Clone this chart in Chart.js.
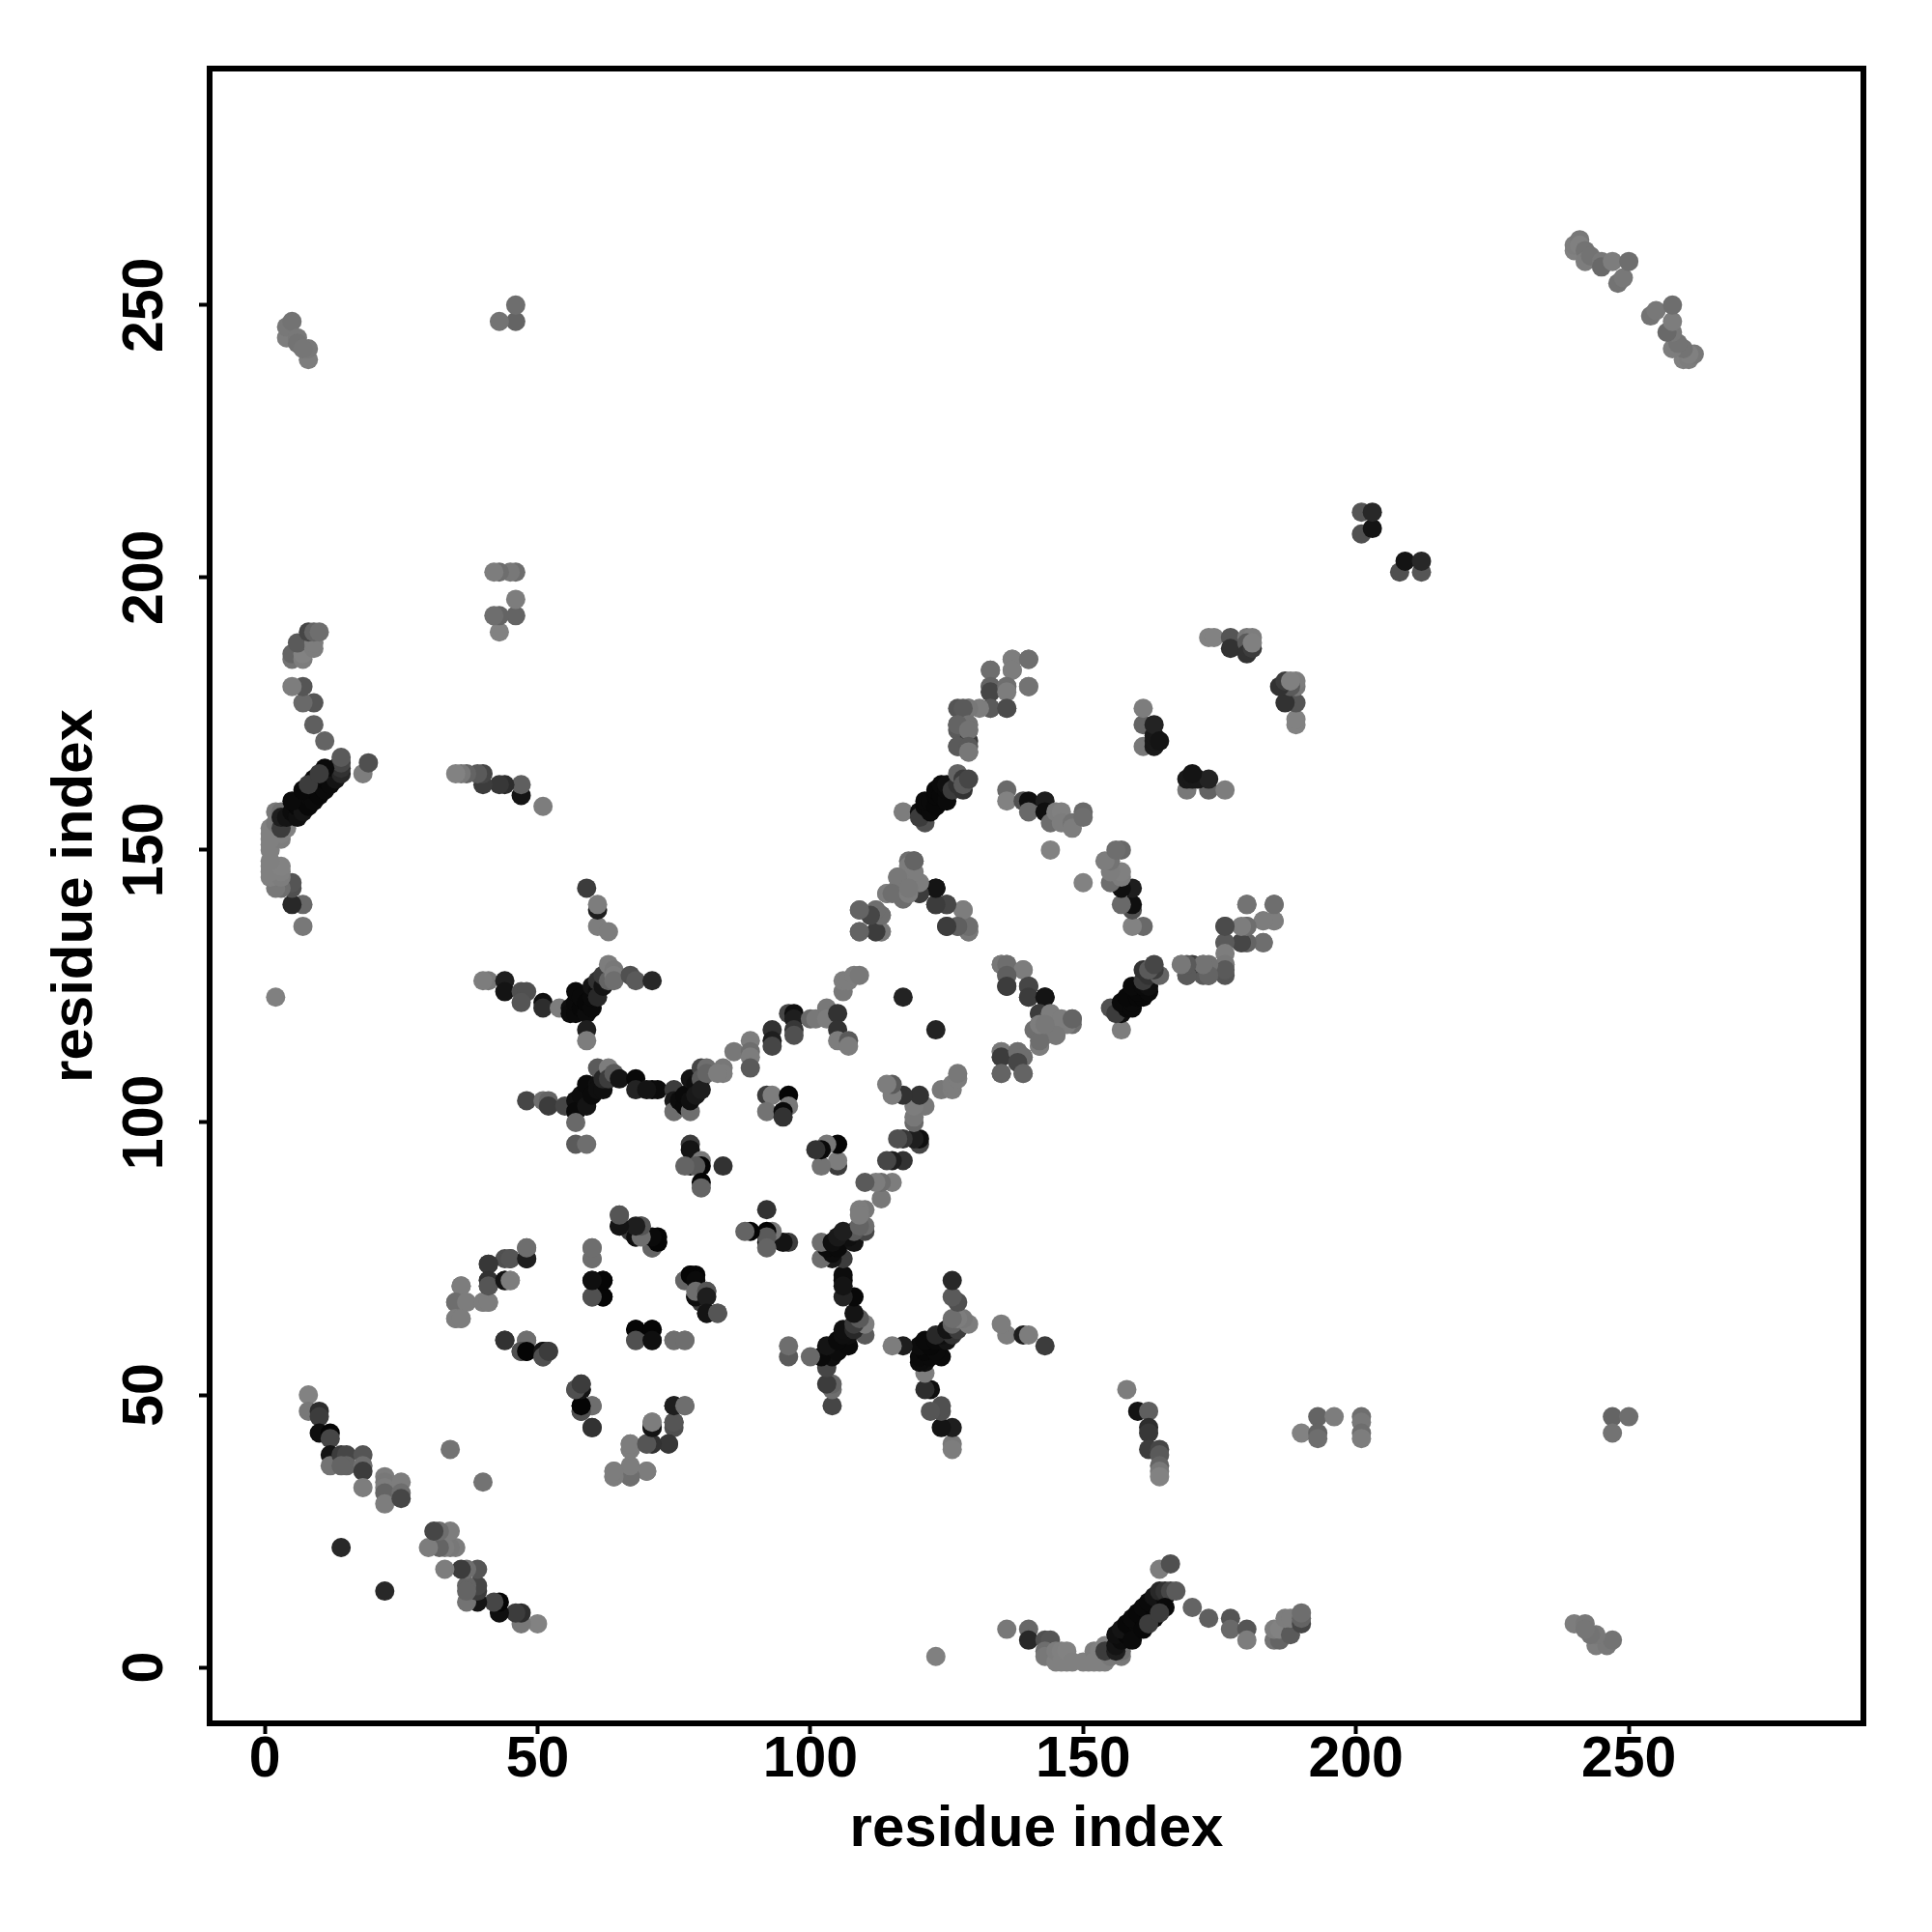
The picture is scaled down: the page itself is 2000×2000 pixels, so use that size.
<!DOCTYPE html>
<html>
<head>
<meta charset="utf-8">
<title>contact map</title>
<script src="https://cdn.jsdelivr.net/npm/chart.js@4"></script>
<style>
  html, body { margin: 0; padding: 0; background: #fff; }
  canvas { display: block; }
</style>
</head>
<body>
<canvas id="mapa" width="2000" height="2000"></canvas>
<script>
// residue pairs, the map is symmetric so each pair is listed once
const residueA = [
  2,7,7,5,5,5,3,2,1,3, 1,3,1,3,1,1,1,3,1,1, 3,1,2,4,2,3,3,3,4,5, 6,6,7,7,8,8,9,9,10,10,
  11,11,12,12,13,13,14,14,14,14, 18,19,11,9,9,7,7,5,5,5, 7,7,6,9,9,8,9,10,51,47, 47,44,43,40,40,39,37,36,35,46,
  46,43,43,42,46,45,43,42,46,43, 46,8,8,4,4,5,6,6,7,240, 240,241,241,242,242,243,245,245,247,248, 249,250,201,201,203,203,173,174,177,177,
  180,181,180,180,181,181,161,161,161,163, 163,163,163,164,117,120,121,120,121,122, 121,122,123,123,123,124,124,125,125,125, 126,127,127,128,128,128,129,136,136,139,
  140,140,143,143,144,145,146,146,148,148, 150,150,144,118,119,118,116,116,114,118, 117,119,120,120,123,123,125,125,128,129, 127,129,109,112,113,109,112,113,135,136,
  139,136,136,140,140,143,142,144,146,148, 141,144,145,142,142,142,143,135,135,135, 138,139,138,139,168,169,169,172,173,176, 176,176,176,179,180,180,180,183,183,185,
  185,172,170,133,137,137,140,133,133,136, 136,140,133,131,136,129,128,129,127,129, 127,129,129,41,44,44,47,48,47,51, 51,54,56,56,57,57,57,58,58,59,
  59,59,59,60,60,60,61,61,61,62, 62,63,63,64,64,64,67,68,71,40, 61,63,61,61,59,48,51,52,52,55, 57,57,57,57,59,58,59,59,60,61,
  61,62,61,62,63,63,64,65,68,68, 71,72,70,75,75,75,76,77,77,78, 78,78,79,79,80,81,80,80,81,84, 84,83,86,89,89,89,89,93,93,93,
  96,97,97,97,97,100,101,103,103,105, 105,105,107,107,106,106,107,108,109,117, 92,93,92,96,96,95,95,78,78,78, 80,80,79,80,80,84,77,65,65,69,
  68,68,72,72,71,67,60,60,60,62, 60,62,77,78,79,79,79,81,81,81, 83,68,71,68,71,75,77,75,77,71, 75,75,71,70,71,74,67,67,64,64,
  67,67,70,58,57,58,58,58,60,60, 44,48,47,48,51,51,52,36,35,37, 40,41,35,36,41,41,41,45,44,45, 48,48,8,8,10,10,10,12,12,12,
  12,14,15,15,18,18,18,18,22,22, 22,22,22,25,25,25,14,34,14,
  5,7,9,11,8,10
];
const residueB = [
  123,136,140,140,143,144,143,143,145,145, 146,146,147,147,148,150,151,152,152,153, 153,154,155,154,157,157,154,156,156,157, 156,158,157,159,158,160,159,161,160,162,
  161,163,162,164,163,165,164,165,166,167, 164,166,170,173,177,177,180,180,185,186, 185,186,188,187,188,190,190,190,158,160, 162,162,162,162,164,164,164,164,164,193,
  196,190,193,193,201,201,201,201,247,247, 250,240,242,244,246,247,244,243,242,260, 261,262,261,260,258,259,258,257,258,254, 255,258,208,212,209,212,189,189,189,187,
  189,189,188,186,187,188,169,173,176,169, 170,171,173,170,157,157,155,156,158,157, 159,159,158,160,161,160,162,159,161,162, 161,162,164,161,163,162,163,161,159,159,
  159,157,159,157,155,157,157,155,155,154, 157,156,150,148,148,147,145,143,142,142, 144,144,144,142,143,140,140,136,139,136, 136,135,139,139,138,135,135,135,129,129,
  128,127,125,125,123,123,120,120,119,119, 117,117,116,114,115,118,118,113,112,109, 113,112,111,109,129,127,128,129,127,129, 127,133,136,133,133,136,140,133,137,137,
  140,127,129,183,185,183,185,180,179,180, 179,180,176,176,176,176,176,173,173,172, 169,169,168,126,126,124,124,124,122,122, 121,121,121,120,120,122,124,121,123,120,
  122,117,115,121,123,125,124,123,126,125, 127,126,129,128,127,126,127,126,126,126, 136,135,139,140,143,104,104,104,103,103, 104,102,100,96,96,105,103,107,105,107,
  106,106,110,108,110,108,109,108,108,106, 106,106,106,106,104,102,104,103,105,102, 104,108,107,105,110,110,108,106,109,110, 109,109,113,115,113,112,110,117,115,114,
  120,120,119,117,116,119,119,121,119,120, 117,115,115,114,124,126,126,127,127,123, 105,105,102,105,103,102,101,96,95,92, 93,92,92,89,88,92,92,83,81,81,
  80,79,79,78,77,80,77,75,71,71, 68,68,71,72,71,68,69,69,68,65, 65,62,62,60,60,60,60,48,48,45, 45,44,44,41,41,41,41,40,36,35,
  36,35,36,52,51,51,48,47,48,44, 60,60,58,58,58,57,58,70,67,67, 67,67,64,64,74,71,70,75,71,71, 75,77,50,47,47,46,43,43,42,39,
  37,39,39,37,39,37,36,33,35,34, 33,32,30,34,32,31,22,40,37,
  159,161,163,165,162,164
];
// grey level of each pair, 0 is black
const residueGrey = [
  128,120,104,40,80,85,110,120,128,125, 128,128,128,130,128,128,128,125,128,128, 128,128,120,130,120,110,60,30,20,12, 15,8,20,10,8,10,10,8,8,8,
  10,8,10,10,20,12,40,50,70,90, 125,80,100,95,85,105,85,125,115,100, 125,130,90,125,125,70,100,110,125,20, 95,45,55,60,70,90,100,120,130,100,
  125,130,100,110,110,120,110,125,100,115, 110,125,120,125,120,115,120,115,118,128, 125,120,128,115,125,115,120,105,125,115, 120,110,80,85,20,40,130,130,85,50,
  120,125,90,50,60,128,120,100,125,25, 25,25,35,20,125,15,80,60,10,10, 10,10,8,8,8,8,10,10,10,15, 60,50,100,50,60,90,70,105,130,80,
  15,105,30,15,110,125,128,125,115,125, 105,110,130,110,105,125,125,120,125,115, 125,120,125,70,10,50,50,60,115,120, 115,110,100,110,125,100,100,125,120,110,
  125,95,60,70,60,20,60,125,125,100, 110,125,120,125,110,125,120,120,60,100, 110,110,70,100,115,85,130,110,75,125, 85,90,70,60,90,110,120,105,125,125,
  105,90,60,110,125,125,110,100,70,110, 125,115,90,125,75,120,90,115,100,115, 90,90,120,120,30,20,80,80,85,15, 45,125,15,12,10,10,10,8,10,12,
  8,30,125,10,10,20,15,40,50,20, 60,100,125,120,125,110,80,90,40,125, 125,125,30,125,60,70,110,100,60,70, 15,10,105,90,110,12,20,10,10,15,
  15,15,90,40,125,60,90,20,8,35, 10,12,20,60,25,110,12,10,10,110, 15,20,15,25,70,110,90,30,100,120, 125,125,120,125,110,125,90,50,30,70,
  70,15,30,55,80,105,120,120,125,50, 50,125,90,125,120,125,125,125,120,35, 60,125,115,5,120,10,50,60,20,20, 120,5,90,5,100,50,100,75,20,90,
  50,25,5,25,95,60,110,120,12,15, 80,5,100,5,10,15,110,85,30,20, 85,5,5,80,15,110,110,20,90,125, 60,80,25,70,45,45,125,125,125,125,
  125,90,120,60,80,5,10,80,100,55, 50,110,80,5,20,80,60,125,110,125, 125,125,125,125,55,50,85,85,20,125, 30,110,130,120,45,60,15,5,70,20,
  115,60,70,100,85,110,60,125,125,120, 125,100,125,125,110,70,40,115,100,
  10,8,8,10,60,60
];
const tickValues = [0, 50, 100, 150, 200, 250];
const axisTitle = "residue index";

const puntos = [];
const colores = [];
residueA.forEach((a, n) => {
    const g = residueGrey[n];
    puntos.push({ x: a, y: residueB[n] });
    colores.push(`rgb(${g},${g},${g})`);
    puntos.push({ x: residueB[n], y: a });
    colores.push(`rgb(${g},${g},${g})`);
});

// box round the plot, chart.js only gives the left and bottom edges
const marco = {
    id: "marco",
    afterDatasetsDraw(chart) {
        const { ctx, chartArea: a } = chart;
        ctx.save();
        ctx.strokeStyle = "#000";
        ctx.lineWidth = 6;
        ctx.strokeRect(a.left, a.top, a.right - a.left, a.bottom - a.top);
        ctx.restore();
    }
};

const fuenteTicks = { family: "Liberation Sans", size: 59, weight: "bold" };
const fuenteTitulo = { family: "Liberation Sans", size: 60, weight: "bold" };
const rejilla = { drawOnChartArea: false, drawTicks: true, tickLength: 11, tickWidth: 4, tickColor: "#000" };

new Chart(document.getElementById("mapa"), {
    type: "scatter",
    data: {
        datasets: [{
            data: puntos,
            backgroundColor: colores,
            pointRadius: 10,
            pointHoverRadius: 10,
            borderWidth: 0,
            pointBorderWidth: 0,
            showLine: false
        }]
    },
    options: {
        responsive: false,
        animation: false,
        devicePixelRatio: 1,
        layout: { padding: { top: 71, right: 71, left: 0, bottom: 0 } },
        plugins: { legend: { display: false }, tooltip: { enabled: false } },
        scales: {
            x: {
                type: "linear",
                min: -10.1,
                max: 293,
                afterBuildTicks: s => { s.ticks = tickValues.map(v => ({ value: v })); },
                afterFit: s => { s.height = 216; },
                border: { display: false },
                grid: rejilla,
                ticks: { color: "#000", font: fuenteTicks, padding: -8, maxRotation: 0, minRotation: 0 },
                title: { display: true, text: axisTitle, color: "#000", font: fuenteTitulo, padding: { top: 0, bottom: 70 } }
            },
            y: {
                type: "linear",
                min: -10.27,
                max: 293.4,
                afterBuildTicks: s => { s.ticks = tickValues.map(v => ({ value: v })); },
                afterFit: s => { s.width = 217; },
                border: { display: false },
                grid: rejilla,
                ticks: { color: "#000", font: fuenteTicks, padding: 5, minRotation: 90, maxRotation: 90, crossAlign: "center" },
                title: { display: true, text: axisTitle, color: "#000", font: fuenteTitulo, padding: { top: 42, bottom: 0 } }
            }
        }
    },
    plugins: [marco]
});
</script>
</body>
</html>
